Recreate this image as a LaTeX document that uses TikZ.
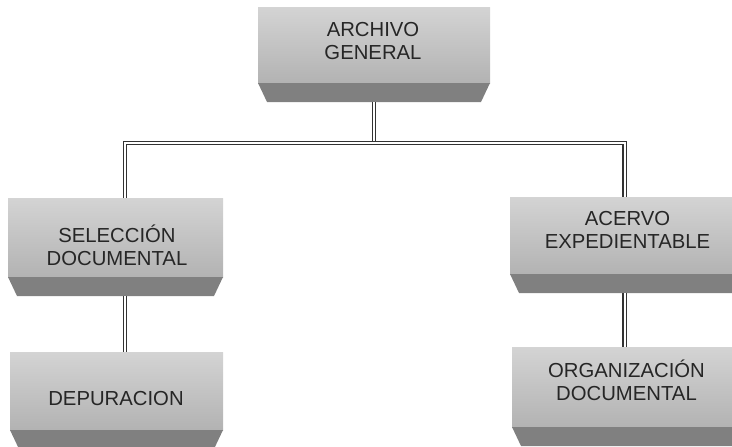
\documentclass[tikz,border=0pt]{standalone}
\usepackage{fontspec}
\setmainfont{Liberation Sans}
\definecolor{caraclaro}{gray}{0.83}
\definecolor{caraoscuro}{gray}{0.70}
\definecolor{biselcolor}{gray}{0.50}
\definecolor{tinta}{gray}{0.15}
\definecolor{linea}{gray}{0.2}

\begin{document}
\begin{tikzpicture}[x=1pt,y=-1pt,
  cara/.style={rectangle, inner sep=0pt, outer sep=0pt,
               top color=caraclaro, bottom color=caraoscuro},
  bisel/.style={fill=biselcolor},
  texto/.style={align=center, text=tinta,
                font=\fontsize{20.3}{23}\selectfont},
  conector/.style={draw=linea, line width=1.2pt,
                   double=white, double distance=2pt}]
\useasboundingbox (0,0) rectangle (732,447);
\clip (0,0) rectangle (732,447);
%\fill[white] (0,0) rectangle (732,447);
\node[cara, minimum width=232pt, minimum height=76pt] (archivo) at (374,45) {};
\node[cara, minimum width=215pt, minimum height=79pt] (seleccion) at (115.5,237.5) {};
\node[cara, minimum width=213pt, minimum height=78pt] (depuracion) at (116.5,391) {};
\node[cara, minimum width=235pt, minimum height=77pt] (acervo) at (627.5,235.5) {};
\node[cara, minimum width=233pt, minimum height=80pt] (organizacion) at (628.5,387) {};
\foreach \n in {archivo,seleccion,depuracion,acervo,organizacion}{
  \fill[bisel] (\n.south west) -- (\n.south east)
    -- ([shift={(-9,19)}]\n.south east) -- ([shift={(9,19)}]\n.south west) -- cycle;
  \coordinate (\n-pie) at ([yshift=-19pt]\n.south);
}
\node[texto] (archivo-t) at (373,41) {ARCHIVO\\GENERAL};
\node[texto] (seleccion-t) at (117,245) {SELECCIÓN\\DOCUMENTAL};
\node[texto] (depuracion-t) at (116,398.5) {DEPURACION};
\node[texto] (acervo-t) at (627.5,230) {ACERVO\\EXPEDIENTABLE};
\node[texto] (organizacion-t) at (626.5,380) {ORGANIZACIÓN\\DOCUMENTAL};
\coordinate (izq) at (125,143);
\coordinate (der) at (624.5,143);
\draw[conector] (archivo-pie) -- (archivo-pie |- izq);
\draw[conector] (izq |- seleccion.north) -- (izq) -- (der) -- (der |- acervo.north);
\draw[conector] (izq |- seleccion-pie) -- (izq |- depuracion.north);
\draw[conector] (der |- acervo-pie) -- (der |- organizacion.north);
\end{tikzpicture}
\end{document}
